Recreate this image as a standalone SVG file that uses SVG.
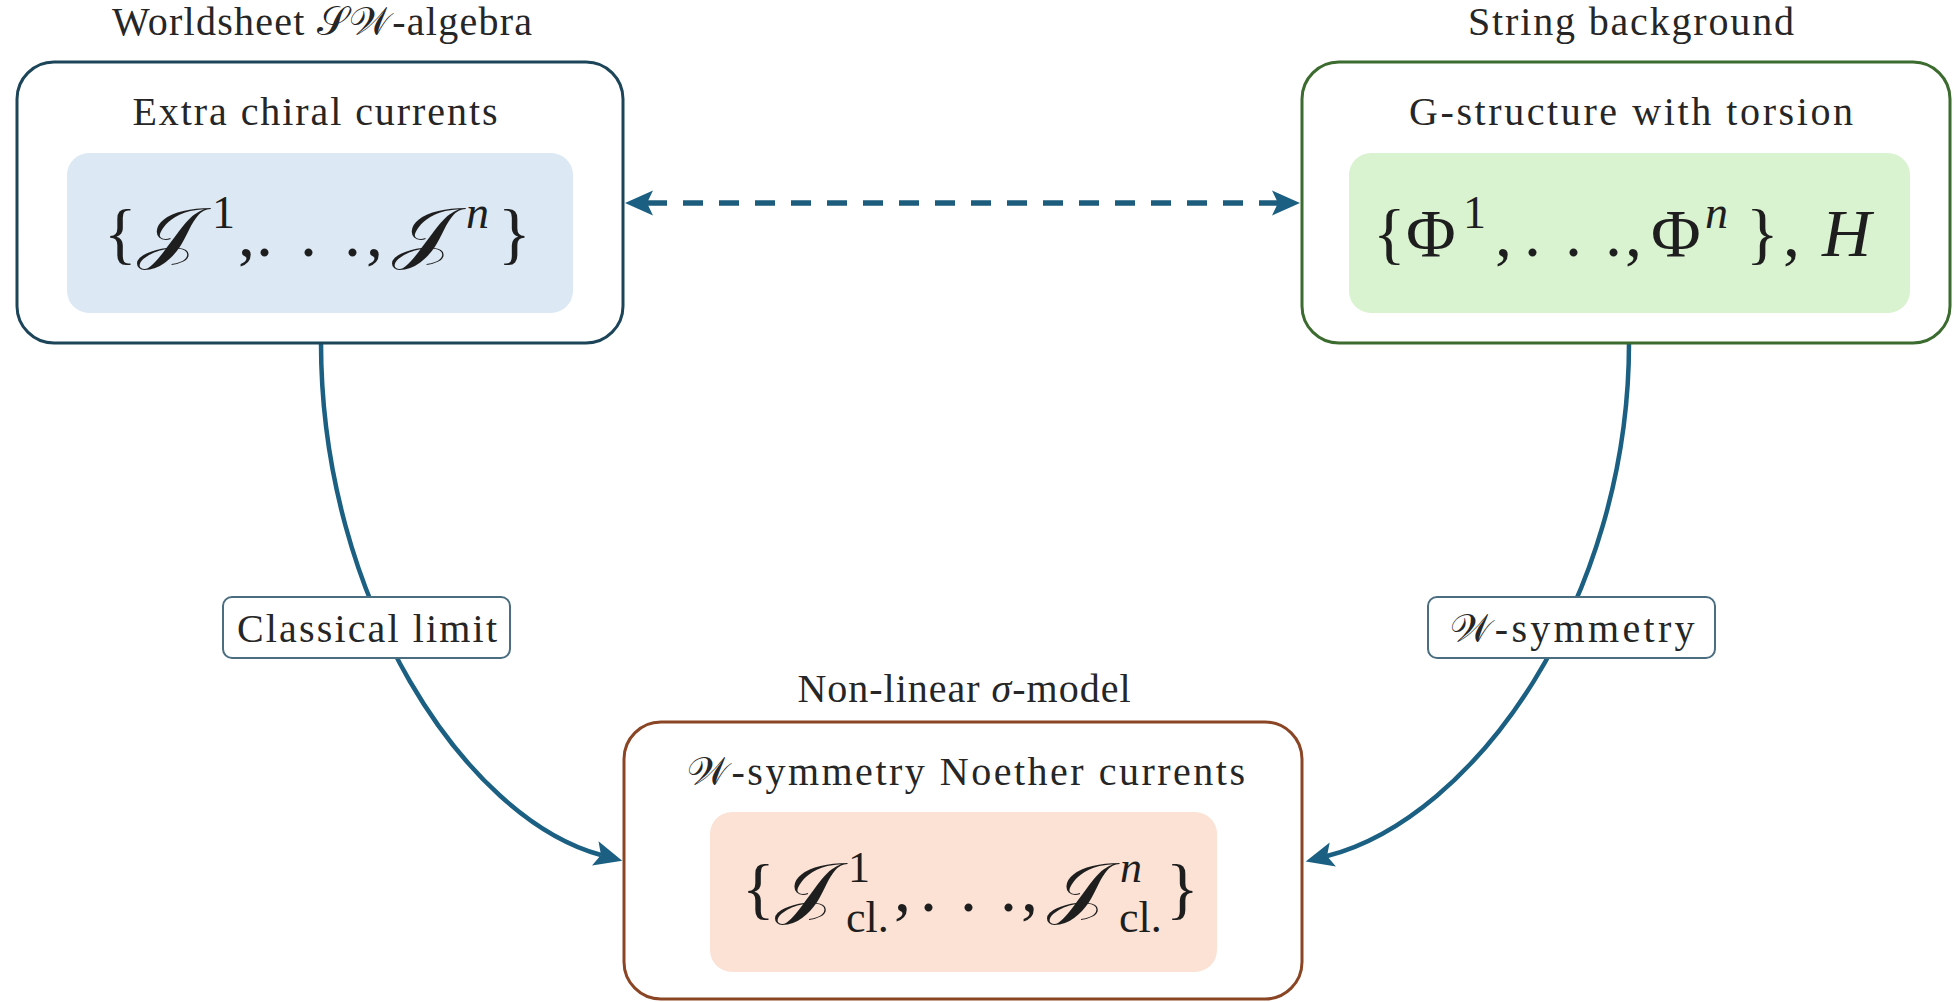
<svg xmlns="http://www.w3.org/2000/svg" width="1954" height="1002" viewBox="0 0 1954 1002">
<style>
  .t{font-family:"Liberation Serif","Times New Roman",serif;font-size:40px;fill:#262626}
  .m{font-family:"Liberation Serif","DejaVu Serif",serif;font-size:68px;fill:#1e1e1e}
  .s{font-size:46px}
  .u{font-size:44px}
  .i{font-style:italic}
  .box{fill:#ffffff;stroke-width:3}
  .lbl{fill:#ffffff;stroke:#4a6d80;stroke-width:2}
  .arc{fill:none;stroke:#1b6083;stroke-width:4.5}
</style>
<defs>
  <marker id="ah" viewBox="0 -14 30 28" markerWidth="30" markerHeight="28" refX="6" refY="0" orient="auto-start-reverse" markerUnits="userSpaceOnUse">
    <path d="M0,-12.5 L28,0 L0,12.5 L6,0 Z" fill="#1b6083"/>
  </marker>
</defs>

<g id="connectors">
  <line x1="647" y1="203" x2="1278" y2="203" stroke="#1c5d7d" stroke-width="5.5" stroke-dasharray="20 16" marker-start="url(#ah)" marker-end="url(#ah)"/>
  <path class="arc" d="M321,343 C321,600 465,818 601,855" marker-end="url(#ah)"/>
  <path class="arc" d="M1629,343 C1629,600 1475,818 1327,856" marker-end="url(#ah)"/>
  <g id="label-classical">
    <rect class="lbl" x="223" y="597" width="287" height="61" rx="9"/>
    <text class="t" x="367" y="642" text-anchor="middle" textLength="260">Classical limit</text>
  </g>
  <g id="label-wsym">
    <rect class="lbl" x="1428" y="597" width="287" height="61" rx="9"/>
    <text class="t" x="1572" y="642" text-anchor="middle" textLength="245">𝒲-symmetry</text>
  </g>
</g>

<g id="node-worldsheet">
  <text class="t" x="322" y="35" text-anchor="middle" textLength="420">Worldsheet 𝒮𝒲-algebra</text>
  <rect class="box" x="17" y="62" width="606" height="281" rx="37" stroke="#1d4559"/>
  <text class="t" x="315" y="125" text-anchor="middle" textLength="365">Extra chiral currents</text>
  <rect x="67" y="153" width="506" height="160" rx="22" fill="#dce9f5"/>
  <text class="m" transform="translate(137,256) scale(1.3,1)">𝒥</text>
  <text class="m" transform="translate(392,256) scale(1.3,1)">𝒥</text>
  <text class="m"><tspan x="104" y="256">{</tspan><tspan class="s" x="212" y="228">1</tspan><tspan x="238" y="256">,</tspan><tspan x="256" y="256">.</tspan><tspan x="300" y="256">.</tspan><tspan x="344" y="256">.</tspan><tspan x="366" y="256">,</tspan><tspan class="s i" x="466" y="228">n</tspan><tspan x="498" y="256">}</tspan></text>
</g>

<g id="node-string">
  <text class="t" x="1631" y="35" text-anchor="middle" textLength="326">String background</text>
  <rect class="box" x="1302" y="62" width="648" height="281" rx="37" stroke="#3b6b2e"/>
  <text class="t" x="1631" y="125" text-anchor="middle" textLength="444">G-structure with torsion</text>
  <rect x="1349" y="153" width="561" height="160" rx="22" fill="#d9f2d0"/>
  <text class="m"><tspan x="1373" y="256">{</tspan><tspan x="1406" y="256">Φ</tspan><tspan class="s" x="1463" y="228">1</tspan><tspan x="1495" y="256">,</tspan><tspan x="1524" y="256">.</tspan><tspan x="1565" y="256">.</tspan><tspan x="1605" y="256">.</tspan><tspan x="1625" y="256">,</tspan><tspan x="1651" y="256">Φ</tspan><tspan class="s i" x="1705" y="228">n</tspan><tspan x="1746" y="256">}</tspan><tspan x="1783" y="256">,</tspan><tspan class="i" x="1822" y="256">H</tspan></text>
</g>

<g id="node-sigma">
  <text class="t" x="964" y="702" text-anchor="middle" textLength="333">Non-linear <tspan class="i">σ</tspan>-model</text>
  <rect class="box" x="624" y="722" width="678" height="277" rx="37" stroke="#8a4524"/>
  <text class="t" x="966" y="785" text-anchor="middle" textLength="558">𝒲-symmetry Noether currents</text>
  <rect x="710" y="812" width="507" height="160" rx="22" fill="#fbe2d5"/>
  <text class="m" transform="translate(775,911) scale(1.28,1)">𝒥</text>
  <text class="m" transform="translate(1047,911) scale(1.28,1)">𝒥</text>
  <text class="m"><tspan x="742" y="911">{</tspan><tspan class="u" x="848" y="882">1</tspan><tspan class="u" x="846" y="932">cl.</tspan><tspan x="894" y="911">,</tspan><tspan x="920" y="911">.</tspan><tspan x="960" y="911">.</tspan><tspan x="1000" y="911">.</tspan><tspan x="1021" y="911">,</tspan><tspan class="u i" x="1120" y="882">n</tspan><tspan class="u" x="1119" y="932">cl.</tspan><tspan x="1166" y="911">}</tspan></text>
</g>
</svg>
